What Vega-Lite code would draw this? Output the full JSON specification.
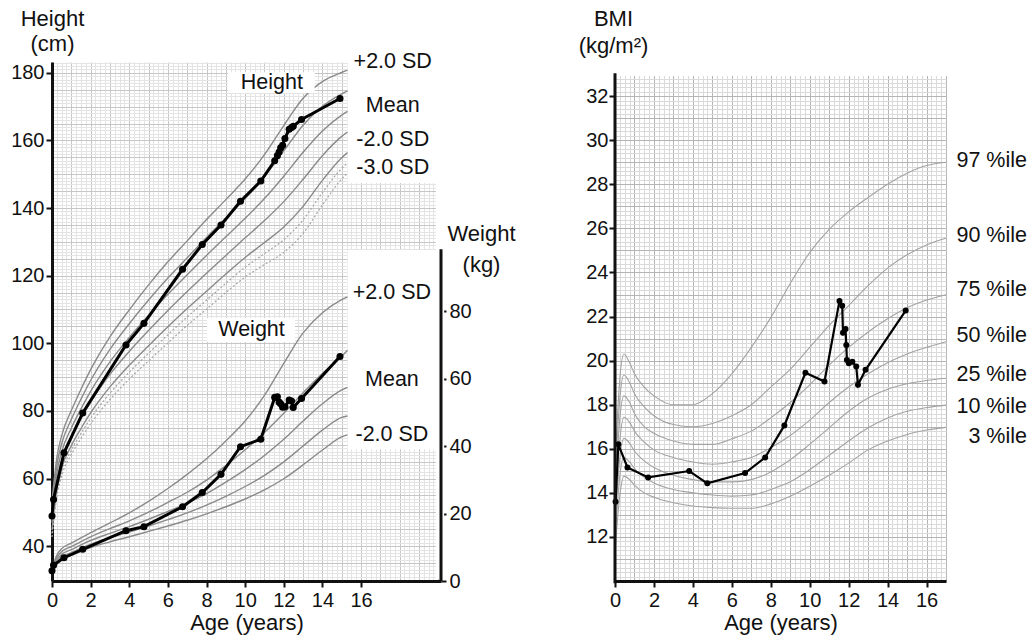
{
  "$schema": "https://vega.github.io/schema/vega-lite/v6.json",
  "padding": {"left": 10, "top": 7, "right": 5, "bottom": 4},
  "autosize": {"type": "pad"},
  "bounds": "flush",
  "spacing": 174,
  "config": {
    "font": "Liberation Sans",
    "view": {"stroke": null},
    "axis": {"labelColor": "#111", "titleColor": "#111", "titleFontWeight": "normal", "labelFontSize": 20, "titleFontSize": 22, "domainColor": "#111", "tickColor": "#111", "labelFont": "Liberation Sans", "titleFont": "Liberation Sans", "labelOverlap": false, "labelFlush": false, "labelBound": false},
    "text": {"font": "Liberation Sans", "fontSize": 21.5, "color": "#111"}
  },
  "datasets": {
    "htref": [
      {"age":0,"p2":53.2,"p1":51.1,"m":49.0,"m1":46.9,"m2":44.8,"m25":43.75,"m3":42.7},
      {"age":0.25,"p2":66.1,"p1":63.8,"m":61.5,"m1":59.2,"m2":56.9,"m25":55.75,"m3":54.6},
      {"age":0.5,"p2":72.7,"p1":70.3,"m":67.9,"m1":65.5,"m2":63.1,"m25":61.9,"m3":60.7},
      {"age":1,"p2":80.1,"p1":77.5,"m":74.9,"m1":72.3,"m2":69.7,"m25":68.4,"m3":67.1},
      {"age":1.5,"p2":86.4,"p1":83.5,"m":80.6,"m1":77.7,"m2":74.8,"m25":73.35,"m3":71.9},
      {"age":2,"p2":92.2,"p1":89.0,"m":85.8,"m1":82.6,"m2":79.4,"m25":77.8,"m3":76.2},
      {"age":3,"p2":101.9,"p1":98.2,"m":94.5,"m1":90.8,"m2":87.1,"m25":85.25,"m3":83.4},
      {"age":4,"p2":109.9,"p1":105.8,"m":101.7,"m1":97.6,"m2":93.5,"m25":91.45,"m3":89.4},
      {"age":5,"p2":117.3,"p1":112.8,"m":108.3,"m1":103.8,"m2":99.3,"m25":97.05,"m3":94.8},
      {"age":6,"p2":124.1,"p1":119.3,"m":114.5,"m1":109.7,"m2":104.9,"m25":102.5,"m3":100.1},
      {"age":7,"p2":130.3,"p1":125.3,"m":120.3,"m1":115.3,"m2":110.3,"m25":107.8,"m3":105.3},
      {"age":8,"p2":136.6,"p1":131.3,"m":126.0,"m1":120.7,"m2":115.4,"m25":112.75,"m3":110.1},
      {"age":9,"p2":142.5,"p1":137.0,"m":131.5,"m1":126.0,"m2":120.5,"m25":117.75,"m3":115.0},
      {"age":10,"p2":148.6,"p1":142.8,"m":137.0,"m1":131.2,"m2":125.4,"m25":122.5,"m3":119.6},
      {"age":11,"p2":155.8,"p1":149.3,"m":142.8,"m1":136.3,"m2":129.8,"m25":126.55,"m3":123.3},
      {"age":12,"p2":164.4,"p1":156.9,"m":149.4,"m1":141.9,"m2":134.4,"m25":130.65,"m3":126.9},
      {"age":13,"p2":172.5,"p1":164.5,"m":156.5,"m1":148.5,"m2":140.5,"m25":136.5,"m3":132.5},
      {"age":14,"p2":177.4,"p1":170.1,"m":162.8,"m1":155.5,"m2":148.2,"m25":144.55,"m3":140.9},
      {"age":15,"p2":180.1,"p1":173.8,"m":167.5,"m1":161.2,"m2":154.9,"m25":151.75,"m3":148.6},
      {"age":15.3,"p2":180.8,"p1":174.7,"m":168.6,"m1":162.5,"m2":156.4,"m25":153.35,"m3":150.3}
    ],
    "wtref": [
      {"age":0,"p2":3.9,"p1":3.5,"m":3.0,"m1":2.6,"m2":2.2},
      {"age":0.25,"p2":7.6,"p1":6.9,"m":6.2,"m1":5.5,"m2":4.9},
      {"age":0.5,"p2":9.6,"p1":8.7,"m":7.9,"m1":7.1,"m2":6.4},
      {"age":1,"p2":11.2,"p1":10.2,"m":9.3,"m1":8.4,"m2":7.6},
      {"age":1.5,"p2":12.8,"p1":11.7,"m":10.7,"m1":9.7,"m2":8.8},
      {"age":2,"p2":14.3,"p1":13.1,"m":12.0,"m1":10.9,"m2":9.9},
      {"age":3,"p2":17.2,"p1":15.5,"m":14.1,"m1":12.8,"m2":11.6},
      {"age":4,"p2":20.2,"p1":17.8,"m":16.1,"m1":14.5,"m2":13.1},
      {"age":5,"p2":23.6,"p1":20.4,"m":18.3,"m1":16.3,"m2":14.7},
      {"age":6,"p2":27.4,"p1":23.3,"m":20.6,"m1":18.2,"m2":16.3},
      {"age":7,"p2":31.6,"p1":26.3,"m":23.0,"m1":20.2,"m2":18.0},
      {"age":8,"p2":36.2,"p1":29.9,"m":25.9,"m1":22.5,"m2":19.9},
      {"age":9,"p2":41.5,"p1":34.2,"m":29.3,"m1":25.1,"m2":22.0},
      {"age":10,"p2":47.4,"p1":38.9,"m":33.0,"m1":28.0,"m2":24.3},
      {"age":11,"p2":55.0,"p1":44.0,"m":37.2,"m1":31.3,"m2":27.0},
      {"age":12,"p2":64.5,"p1":49.7,"m":42.0,"m1":35.3,"m2":30.3},
      {"age":13,"p2":73.5,"p1":55.8,"m":47.4,"m1":40.0,"m2":34.4},
      {"age":14,"p2":79.5,"p1":61.5,"m":52.5,"m1":44.7,"m2":38.8},
      {"age":15,"p2":83.4,"p1":66.6,"m":56.6,"m1":48.5,"m2":42.7},
      {"age":15.3,"p2":84.2,"p1":68.4,"m":57.4,"m1":48.9,"m2":43.3}
    ],
    "bmiref": [
      {"age":0,"p97":14.9,"p90":14.3,"p75":13.7,"p50":13.1,"p25":12.5,"p10":11.9,"p3":11.3},
      {"age":0.1,"p97":17.0,"p90":16.2,"p75":15.4,"p50":14.6,"p25":13.9,"p10":13.2,"p3":12.5},
      {"age":0.25,"p97":19.2,"p90":18.3,"p75":17.4,"p50":16.4,"p25":15.6,"p10":14.8,"p3":13.9},
      {"age":0.46,"p97":20.3,"p90":19.35,"p75":18.4,"p50":17.43,"p25":16.47,"p10":15.6,"p3":14.76},
      {"age":0.75,"p97":19.9,"p90":19.0,"p75":18.1,"p50":17.2,"p25":16.25,"p10":15.4,"p3":14.6},
      {"age":1,"p97":19.4,"p90":18.5,"p75":17.6,"p50":16.8,"p25":15.9,"p10":15.1,"p3":14.35},
      {"age":1.5,"p97":18.8,"p90":17.9,"p75":17.0,"p50":16.3,"p25":15.45,"p10":14.7,"p3":14.0},
      {"age":2,"p97":18.4,"p90":17.5,"p75":16.7,"p50":15.95,"p25":15.15,"p10":14.45,"p3":13.8},
      {"age":3,"p97":18.0,"p90":17.1,"p75":16.35,"p50":15.6,"p25":14.8,"p10":14.15,"p3":13.55},
      {"age":4,"p97":18.0,"p90":17.0,"p75":16.2,"p50":15.4,"p25":14.6,"p10":14.0,"p3":13.4},
      {"age":5,"p97":18.5,"p90":17.15,"p75":16.2,"p50":15.3,"p25":14.5,"p10":13.9,"p3":13.33},
      {"age":6,"p97":19.4,"p90":17.5,"p75":16.45,"p50":15.4,"p25":14.5,"p10":13.85,"p3":13.3},
      {"age":7,"p97":20.6,"p90":18.0,"p75":16.8,"p50":15.6,"p25":14.6,"p10":13.9,"p3":13.3},
      {"age":8,"p97":21.95,"p90":18.8,"p75":17.4,"p50":16.05,"p25":14.95,"p10":14.15,"p3":13.5},
      {"age":9,"p97":23.5,"p90":19.6,"p75":18.1,"p50":16.6,"p25":15.5,"p10":14.5,"p3":13.85},
      {"age":10,"p97":24.9,"p90":20.6,"p75":18.9,"p50":17.3,"p25":16.2,"p10":15.05,"p3":14.3},
      {"age":11,"p97":25.95,"p90":21.6,"p75":19.8,"p50":18.1,"p25":16.95,"p10":15.7,"p3":14.8},
      {"age":12,"p97":26.75,"p90":22.5,"p75":20.6,"p50":18.8,"p25":17.7,"p10":16.35,"p3":15.35},
      {"age":13,"p97":27.4,"p90":23.4,"p75":21.3,"p50":19.4,"p25":18.3,"p10":16.95,"p3":15.95},
      {"age":14,"p97":28.0,"p90":24.2,"p75":21.9,"p50":19.9,"p25":18.7,"p10":17.4,"p3":16.35},
      {"age":15,"p97":28.5,"p90":24.8,"p75":22.4,"p50":20.3,"p25":18.95,"p10":17.7,"p3":16.65},
      {"age":16,"p97":28.85,"p90":25.25,"p75":22.75,"p50":20.6,"p25":19.1,"p10":17.87,"p3":16.85},
      {"age":17,"p97":29.0,"p90":25.55,"p75":22.99,"p50":20.86,"p25":19.2,"p10":17.98,"p3":16.97}
    ],
    "growth": [
      {"age":0,"height":48.9,"weight":3.06},
      {"age":0.08,"height":53.8,"weight":4.7},
      {"age":0.62,"height":67.6,"weight":6.9},
      {"age":1.59,"height":79.4,"weight":9.4},
      {"age":3.83,"height":99.5,"weight":14.9},
      {"age":4.76,"height":105.9,"weight":16.1},
      {"age":6.76,"height":121.9,"weight":22.0},
      {"age":7.78,"height":129.2,"weight":26.2},
      {"age":8.75,"height":135.0,"weight":31.6},
      {"age":9.76,"height":142.0,"weight":39.8},
      {"age":10.81,"height":148.0,"weight":42.0},
      {"age":11.53,"height":154.0,"weight":54.4},
      {"age":11.67,"height":155.5,"weight":54.6},
      {"age":11.76,"height":156.6,"weight":53.0},
      {"age":11.84,"height":157.8,"weight":52.5},
      {"age":11.94,"height":158.6,"weight":51.5},
      {"age":12.06,"height":160.6,"weight":51.6},
      {"age":12.28,"height":163.3,"weight":53.6},
      {"age":12.4,"height":163.8,"weight":53.3},
      {"age":12.49,"height":164.2,"weight":51.4},
      {"age":12.92,"height":166.2,"weight":54.1},
      {"age":14.91,"height":172.4,"weight":66.5}
    ],
    "bmi": [
      {"age":0.03,"bmi":13.6},
      {"age":0.17,"bmi":16.2},
      {"age":0.64,"bmi":15.15},
      {"age":1.7,"bmi":14.7},
      {"age":3.81,"bmi":14.99},
      {"age":4.74,"bmi":14.43},
      {"age":6.68,"bmi":14.9},
      {"age":7.71,"bmi":15.6},
      {"age":8.7,"bmi":17.06},
      {"age":9.78,"bmi":19.45},
      {"age":10.76,"bmi":19.05},
      {"age":11.53,"bmi":22.71},
      {"age":11.67,"bmi":22.49},
      {"age":11.71,"bmi":21.27},
      {"age":11.84,"bmi":21.43},
      {"age":11.88,"bmi":20.71},
      {"age":11.91,"bmi":20.03},
      {"age":12.01,"bmi":19.88},
      {"age":12.19,"bmi":19.95},
      {"age":12.39,"bmi":19.73},
      {"age":12.48,"bmi":18.9},
      {"age":12.87,"bmi":19.58},
      {"age":14.93,"bmi":22.27}
    ]
  },
  "hconcat": [
    {
      "width": 389,
      "height": 519,
      "resolve": {"scale": {"y": "independent"}, "axis": {"x": "independent", "y": "independent"}},
      "layer": [
        {
          "resolve": {"axis": {"x": "independent", "y": "independent"}},
          "layer": [
            {"data": {"values": [{}]}, "mark": {"type": "rect", "color": "white"},
             "encoding": {
               "x": {"datum": 15.3, "type": "quantitative",
                 "axis": {"orient": "bottom", "values": [0,0.25,0.5,0.75,1,1.25,1.5,1.75,2,2.25,2.5,2.75,3,3.25,3.5,3.75,4,4.25,4.5,4.75,5,5.25,5.5,5.75,6,6.25,6.5,6.75,7,7.25,7.5,7.75,8,8.25,8.5,8.75,9,9.25,9.5,9.75,10,10.25,10.5,10.75,11,11.25,11.5,11.75,12,12.25,12.5,12.75,13,13.25,13.5,13.75,14,14.25,14.5,14.75,15,15.25,15.5,15.75,16,16.25,16.5,16.75,17,17.25,17.5,17.75,18,18.25,18.5,18.75,19,19.25,19.5,19.75,20],
                   "grid": true, "gridColor": "#e4e4e4", "gridWidth": 1, "domain": false, "ticks": false, "labels": false, "title": null}},
               "x2": {"datum": 20.3},
               "y": {"datum": 147.4, "type": "quantitative",
                 "axis": {"orient": "left", "tickCount": 150, "grid": true, "gridColor": "#e4e4e4", "gridWidth": 1, "domain": false, "ticks": false, "labels": false, "title": null}},
               "y2": {"datum": 183.3}}},
            {"data": {"values": [{}]}, "mark": {"type": "rect", "color": "white"},
             "encoding": {
               "x": {"datum": 15.3, "type": "quantitative",
                 "axis": {"orient": "bottom", "values": [0,1,2,3,4,5,6,7,8,9,10,11,12,13,14,15,16,17,18,19,20],
                   "grid": true, "gridColor": "#c6c6c6", "gridWidth": 1, "domain": false, "ticks": false, "labels": false, "title": null}},
               "x2": {"datum": 20.3},
               "y": {"datum": 68.7, "type": "quantitative",
                 "axis": {"orient": "left", "values": [30,35,40,45,50,55,60,65,70,75,80,85,90,95,100,105,110,115,120,125,130,135,140,145,150,155,160,165,170,175,180],
                   "grid": true, "gridColor": "#c6c6c6", "gridWidth": 1, "domain": false, "ticks": false, "labels": false, "title": null}},
               "y2": {"datum": 127.56}}},
            {"data": {"values": [{}]}, "mark": {"type": "rect", "color": "white"},
             "encoding": {"x": {"datum": 19.88, "type": "quantitative", "axis": null}, "x2": {"datum": 20.3}, "y": {"datum": 30.3, "type": "quantitative", "axis": null}, "y2": {"datum": 183.3}}},
            {
              "data": {"name": "htref"},
              "transform": [{"fold": ["p2", "p1", "m", "m1", "m2"], "as": ["curve", "cm"]}],
              "mark": {"type": "line", "color": "#8a8a8a", "strokeWidth": 1.4, "interpolate": "monotone"},
              "encoding": {
                "x": {"field": "age", "type": "quantitative", "scale": {"domain": [0, 20.14], "nice": false, "zero": false},
                  "axis": {
                    "orient": "bottom", "values": [0, 2, 4, 6, 8, 10, 12, 14, 16],
                    "grid": false, "domain": true, "domainWidth": 3,
                    "ticks": true, "tickSize": 6, "tickWidth": 2,
                    "labelPadding": 3,
                    "title": "Age (years)", "titleY": 48, "titleBaseline": "alphabetic"
                  }},
                "y": {"field": "cm", "type": "quantitative", "scale": {"domain": [29.7, 183.2], "nice": false, "zero": false},
                  "axis": {
                    "orient": "left", "values": [40, 60, 80, 100, 120, 140, 160, 180],
                    "grid": false, "domain": true, "domainWidth": 3,
                    "ticks": true, "tickSize": 6, "tickWidth": 2,
                    "labelPadding": 2,
                    "title": ["Height", "(cm)"], "titleAngle": 0, "titleAlign": "center", "titleBaseline": "middle",
                    "titleX": 0, "titleY": -44, "titleLineHeight": 25
                  }},
                "detail": {"field": "curve"}
              }
            },
            {
              "data": {"name": "htref"},
              "transform": [{"fold": ["m25", "m3"], "as": ["curve", "cm"]}],
              "mark": {"type": "line", "color": "#a6a6a6", "strokeWidth": 1.2, "strokeDash": [2, 2], "interpolate": "monotone"},
              "encoding": {
                "x": {"field": "age", "type": "quantitative", "axis": null},
                "y": {"field": "cm", "type": "quantitative", "axis": null},
                "detail": {"field": "curve"}
              }
            },
            {
              "data": {"name": "growth"},
              "mark": {"type": "line", "color": "#000", "strokeWidth": 3},
              "encoding": {"x": {"field": "age", "type": "quantitative", "axis": null}, "y": {"field": "height", "type": "quantitative", "axis": null}}
            },
            {
              "data": {"name": "growth"},
              "mark": {"type": "point", "filled": true, "color": "#000", "size": 50, "opacity": 1},
              "encoding": {"x": {"field": "age", "type": "quantitative", "axis": null}, "y": {"field": "height", "type": "quantitative", "axis": null}}
            },
            {"data": {"values": [{}]}, "mark": {"type": "rect", "color": "white"},
             "encoding": {"x": {"datum": 9.1, "type": "quantitative", "axis": null}, "x2": {"datum": 13.6}, "y": {"datum": 174.0, "type": "quantitative", "axis": null}, "y2": {"datum": 180.2}}},
            {"data": {"values": [{}]}, "mark": {"type": "rect", "color": "white"},
             "encoding": {"x": {"datum": 8.03, "type": "quantitative", "axis": null}, "x2": {"datum": 12.58}, "y": {"datum": 100.35, "type": "quantitative", "axis": null}, "y2": {"datum": 107.45}}},
            {"data": {"values": [{}]}, "mark": {"type": "text", "align": "center", "baseline": "middle", "text": "Height"},
             "encoding": {"x": {"datum": 11.38, "type": "quantitative", "axis": null}, "y": {"datum": 176.9, "type": "quantitative", "axis": null}}},
            {"data": {"values": [{}]}, "mark": {"type": "text", "align": "center", "baseline": "middle", "text": "Weight"},
             "encoding": {"x": {"datum": 10.33, "type": "quantitative", "axis": null}, "y": {"datum": 103.9, "type": "quantitative", "axis": null}}},
            {"data": {"values": [{}]}, "mark": {"type": "text", "align": "center", "baseline": "middle", "text": "+2.0 SD"},
             "encoding": {"x": {"datum": 17.64, "type": "quantitative", "axis": null}, "y": {"datum": 183.2, "type": "quantitative", "axis": null}}},
            {"data": {"values": [{}]}, "mark": {"type": "text", "align": "center", "baseline": "middle", "text": "Mean"},
             "encoding": {"x": {"datum": 17.64, "type": "quantitative", "axis": null}, "y": {"datum": 170.15, "type": "quantitative", "axis": null}}},
            {"data": {"values": [{}]}, "mark": {"type": "text", "align": "center", "baseline": "middle", "text": "-2.0 SD"},
             "encoding": {"x": {"datum": 17.64, "type": "quantitative", "axis": null}, "y": {"datum": 160.1, "type": "quantitative", "axis": null}}},
            {"data": {"values": [{}]}, "mark": {"type": "text", "align": "center", "baseline": "middle", "text": "-3.0 SD"},
             "encoding": {"x": {"datum": 17.64, "type": "quantitative", "axis": null}, "y": {"datum": 151.8, "type": "quantitative", "axis": null}}}
          ]
        },
        {
          "layer": [
            {
              "data": {"name": "wtref"},
              "transform": [{"fold": ["p2", "p1", "m", "m1", "m2"], "as": ["curve", "kg"]}],
              "mark": {"type": "line", "color": "#8a8a8a", "strokeWidth": 1.4, "interpolate": "monotone"},
              "encoding": {
                "x": {"field": "age", "type": "quantitative", "axis": null},
                "y": {"field": "kg", "type": "quantitative", "scale": {"domain": [0, 153.78], "nice": false, "zero": false},
                  "axis": {
                    "orient": "right",
                    "values": [0, 20, 40, 60, 80],
                    "grid": false, "domain": false,
                    "ticks": true, "tickSize": 5, "tickWidth": 2,
                    "labelPadding": 3,
                    "title": ["Weight", "(kg)"], "titleAngle": 0, "titleAlign": "center", "titleBaseline": "middle",
                    "titleX": 40, "titleY": 171, "titleLineHeight": 31
                  }},
                "detail": {"field": "curve"}
              }
            },
            {
              "data": {"name": "growth"},
              "mark": {"type": "line", "color": "#000", "strokeWidth": 3},
              "encoding": {"x": {"field": "age", "type": "quantitative", "axis": null}, "y": {"field": "weight", "type": "quantitative"}}
            },
            {
              "data": {"name": "growth"},
              "mark": {"type": "point", "filled": true, "color": "#000", "size": 50, "opacity": 1},
              "encoding": {"x": {"field": "age", "type": "quantitative", "axis": null}, "y": {"field": "weight", "type": "quantitative"}}
            },
            {"data": {"values": [{}]}, "mark": {"type": "rule", "color": "#111", "strokeWidth": 3},
             "encoding": {"x": {"datum": 20.14, "type": "quantitative", "axis": null}, "y": {"datum": 0, "type": "quantitative"}, "y2": {"datum": 98.3}}},
            {"data": {"values": [{}]}, "mark": {"type": "text", "align": "center", "baseline": "middle", "text": "+2.0 SD"},
             "encoding": {"x": {"datum": 17.6, "type": "quantitative", "axis": null}, "y": {"datum": 85.2, "type": "quantitative"}}},
            {"data": {"values": [{}]}, "mark": {"type": "text", "align": "center", "baseline": "middle", "text": "Mean"},
             "encoding": {"x": {"datum": 17.6, "type": "quantitative", "axis": null}, "y": {"datum": 59.6, "type": "quantitative"}}},
            {"data": {"values": [{}]}, "mark": {"type": "text", "align": "center", "baseline": "middle", "text": "-2.0 SD"},
             "encoding": {"x": {"datum": 17.6, "type": "quantitative", "axis": null}, "y": {"datum": 43.3, "type": "quantitative"}}}
          ]
        }
      ]
    },
    {
      "width": 331,
      "height": 519,
      "resolve": {"axis": {"x": "independent", "y": "independent"}},
      "layer": [
        {"data": {"values": [{}]}, "mark": {"type": "rect", "color": "white"},
         "encoding": {
           "x": {"datum": 0, "type": "quantitative",
             "axis": {"orient": "bottom", "values": [0,0.25,0.5,0.75,1,1.25,1.5,1.75,2,2.25,2.5,2.75,3,3.25,3.5,3.75,4,4.25,4.5,4.75,5,5.25,5.5,5.75,6,6.25,6.5,6.75,7,7.25,7.5,7.75,8,8.25,8.5,8.75,9,9.25,9.5,9.75,10,10.25,10.5,10.75,11,11.25,11.5,11.75,12,12.25,12.5,12.75,13,13.25,13.5,13.75,14,14.25,14.5,14.75,15,15.25,15.5,15.75,16,16.25,16.5,16.75,17],
               "grid": true, "gridColor": "#dadada", "gridWidth": 1, "domain": false, "ticks": false, "labels": false, "title": null}},
           "x2": {"datum": 17.2},
           "y": {"datum": 32.92, "type": "quantitative",
             "axis": {"orient": "left", "tickCount": 118, "grid": true, "gridColor": "#dadada", "gridWidth": 1, "domain": false, "ticks": false, "labels": false, "title": null}},
           "y2": {"datum": 33.7}}},
        {
          "data": {"name": "bmiref"},
          "transform": [{"fold": ["p97", "p90", "p75", "p50", "p25", "p10", "p3"], "as": ["curve", "v"]}],
          "mark": {"type": "line", "color": "#a3a3a3", "strokeWidth": 1.1, "interpolate": "monotone"},
          "encoding": {
            "x": {"field": "age", "type": "quantitative", "scale": {"domain": [0, 17], "nice": false, "zero": false},
              "axis": {"orient": "bottom", "values": [0,1,2,3,4,5,6,7,8,9,10,11,12,13,14,15,16,17],
                "grid": true, "gridColor": "#b4b4b4", "gridWidth": 1, "domain": false, "ticks": false, "labels": false, "title": null}},
            "y": {"field": "v", "type": "quantitative", "scale": {"domain": [10, 33.55], "nice": false, "zero": false},
              "axis": {"orient": "left", "values": [10,11,12,13,14,15,16,17,18,19,20,21,22,23,24,25,26,27,28,29,30,31,32,33],
                "grid": true, "gridColor": "#b4b4b4", "gridWidth": 1, "domain": false, "ticks": false, "labels": false, "title": null}},
            "detail": {"field": "curve"}
          }
        },
        {
          "data": {"name": "bmi"},
          "mark": {"type": "line", "color": "#000", "strokeWidth": 2.2},
          "encoding": {
            "x": {"field": "age", "type": "quantitative",
              "axis": {
                "orient": "bottom", "values": [0, 2, 4, 6, 8, 10, 12, 14, 16],
                "grid": false, "domain": true, "domainWidth": 3,
                "ticks": true, "tickSize": 6, "tickWidth": 2,
                "labelPadding": 3,
                "title": "Age (years)", "titleY": 48, "titleBaseline": "alphabetic"
              }},
            "y": {"field": "bmi", "type": "quantitative",
              "axis": {
                "orient": "left", "values": [12, 14, 16, 18, 20, 22, 24, 26, 28, 30, 32],
                "grid": false, "domain": false,
                "ticks": true, "tickSize": 6, "tickWidth": 2,
                "labelPadding": 1,
                "title": ["BMI", "(kg/m²)"], "titleAngle": 0, "titleAlign": "center", "titleBaseline": "middle",
                "titleX": -2, "titleY": -44, "titleLineHeight": 27
              }}
          }
        },
        {
          "data": {"name": "bmi"},
          "mark": {"type": "point", "filled": true, "color": "#000", "size": 36, "opacity": 1},
          "encoding": {"x": {"field": "age", "type": "quantitative", "axis": null}, "y": {"field": "bmi", "type": "quantitative", "axis": null}}
        },
        {"data": {"values": [{}]}, "mark": {"type": "rule", "color": "#111", "strokeWidth": 3},
         "encoding": {"x": {"datum": 0, "type": "quantitative", "axis": null}, "y": {"datum": 9.9, "type": "quantitative", "axis": null}, "y2": {"datum": 33.04}}},
        {"data": {"values": [{}]}, "mark": {"type": "text", "align": "right", "baseline": "middle", "text": "97 %ile"},
         "encoding": {"x": {"datum": 21.16, "type": "quantitative", "axis": null}, "y": {"datum": 29.07, "type": "quantitative", "axis": null}}},
        {"data": {"values": [{}]}, "mark": {"type": "text", "align": "right", "baseline": "middle", "text": "90 %ile"},
         "encoding": {"x": {"datum": 21.16, "type": "quantitative", "axis": null}, "y": {"datum": 25.66, "type": "quantitative", "axis": null}}},
        {"data": {"values": [{}]}, "mark": {"type": "text", "align": "right", "baseline": "middle", "text": "75 %ile"},
         "encoding": {"x": {"datum": 21.16, "type": "quantitative", "axis": null}, "y": {"datum": 23.2, "type": "quantitative", "axis": null}}},
        {"data": {"values": [{}]}, "mark": {"type": "text", "align": "right", "baseline": "middle", "text": "50 %ile"},
         "encoding": {"x": {"datum": 21.16, "type": "quantitative", "axis": null}, "y": {"datum": 21.13, "type": "quantitative", "axis": null}}},
        {"data": {"values": [{}]}, "mark": {"type": "text", "align": "right", "baseline": "middle", "text": "25 %ile"},
         "encoding": {"x": {"datum": 21.16, "type": "quantitative", "axis": null}, "y": {"datum": 19.35, "type": "quantitative", "axis": null}}},
        {"data": {"values": [{}]}, "mark": {"type": "text", "align": "right", "baseline": "middle", "text": "10 %ile"},
         "encoding": {"x": {"datum": 21.16, "type": "quantitative", "axis": null}, "y": {"datum": 17.91, "type": "quantitative", "axis": null}}},
        {"data": {"values": [{}]}, "mark": {"type": "text", "align": "right", "baseline": "middle", "text": "3 %ile"},
         "encoding": {"x": {"datum": 21.16, "type": "quantitative", "axis": null}, "y": {"datum": 16.55, "type": "quantitative", "axis": null}}}
      ]
    }
  ]
}
